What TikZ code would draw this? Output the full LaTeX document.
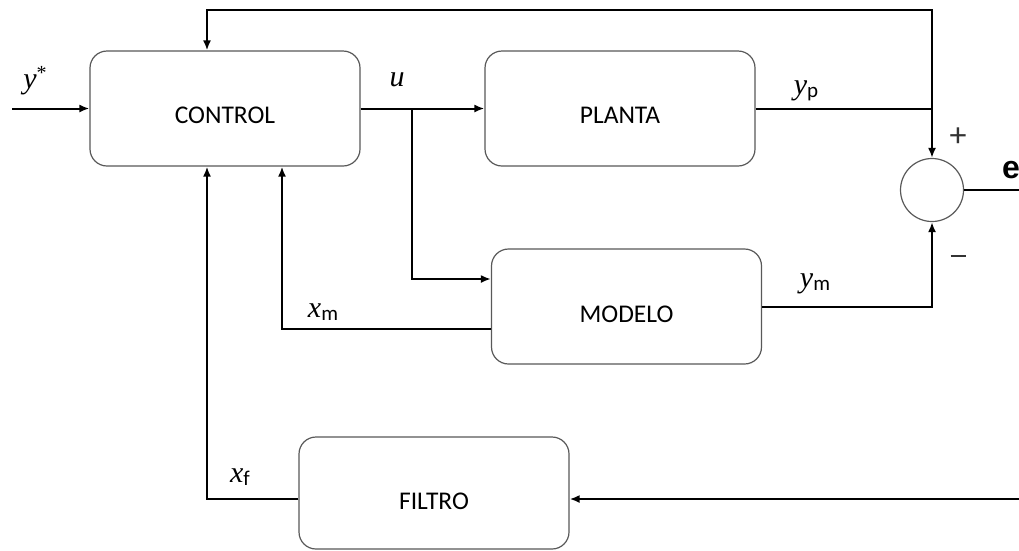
\documentclass[tikz,border=0pt]{standalone}
\usepackage{fontspec}
\setmainfont{Carlito}
\newfontfamily\lserif{Liberation Serif}
\newfontfamily\lsans{Liberation Sans}
\usetikzlibrary{arrows.meta}
\newcommand\itl[1]{{\lserif\itshape #1}}
\newcommand\vsub[2]{\itl{#1}\raisebox{-3pt}{\fontsize{21}{21}\selectfont #2}}
\begin{document}
\begin{tikzpicture}[x=1pt,y=-1pt,
  blk/.style={draw=black!65, line width=1.2pt, rounded corners=17pt, inner sep=0pt,
    minimum width=270pt, minimum height=115pt},
  btxt/.style={font=\fontsize{25.5}{30}\selectfont, inner sep=0pt, text=black},
  wire/.style={line width=2pt, black},
  arr/.style={wire, -{Latex[length=10pt,width=8pt]}},
  lab/.style={font=\fontsize{30}{34}\selectfont, inner sep=0pt},
  sgn/.style={font=\fontsize{34}{34}\selectfont, inner sep=0pt, text=black!80}]
\useasboundingbox (0,0) rectangle (1019,550);
\fill[white] (0,0) rectangle (1019,550);

% blocks
\node[blk, label={[btxt,yshift=-7pt]center:CONTROL}] (control) at (225,108.5) {};
\node[blk, label={[btxt,yshift=-7pt]center:PLANTA}] (planta) at (620,108.5) {};
\node[blk, label={[btxt,yshift=-8pt]center:MODELO}] (modelo) at (626.5,306.5) {};
\node[blk, minimum height=112pt, label={[btxt,yshift=-8pt]center:FILTRO}] (filtro) at (434,493) {};
\node[circle, draw=black!65, line width=1.2pt, minimum size=63pt, inner sep=0pt] (sum) at (932,190) {};

% coordinates
\coordinate (in) at (12,108.5);
\coordinate (ju) at (412,108.5);
\coordinate (mu) at (412,279);
\coordinate (jp) at (932,108.5);
\coordinate (tr) at (932,10);
\coordinate (tl) at (207,10);
\coordinate (mx) at (282,329);
\coordinate (ym) at (932,306.5);
\coordinate (fx) at (207,499);
\coordinate (fin) at (1019,499);
\coordinate (out) at (1019,190);

% connectors
\draw[arr] (in) -- (control.west);
\draw[arr] (control.east) -- (planta.west);
\draw[arr] (ju) -- (mu) -- (mu -| modelo.west);
\draw[wire] (planta.east) -- (jp);
\draw[arr] (jp) -- (sum.north);
\draw[arr] (jp) -- (tr) -- (tl) -- (tl |- control.north);
\draw[arr] (modelo.east |- ym) -- (ym) -- (sum.south);
\draw[arr] (mx -| modelo.west) -- (mx) -- (mx |- control.south);
\draw[arr] (fx -| filtro.west) -- (fx) -- (fx |- control.south);
\draw[arr] (fin) -- (fin -| filtro.east);
\draw[wire] (sum.east) -- (out);

% labels
\node[lab] (lys) at (35,81) {\itl{y}\raisebox{9pt}{\lserif\fontsize{20}{20}\selectfont *}};
\node[lab] (lu) at (397,80) {\itl{u}};
\node[lab] (lyp) at (806,91) {\vsub{y}{p}};
\node[lab] (lym) at (815,284) {\vsub{y}{m}};
\node[lab] (lxm) at (323,312) {\vsub{x}{m}};
\node[lab] (lxf) at (240,477) {\vsub{x}{f}};
\node[sgn] (lplus) at (958,137) {+};
\node[sgn] (lminus) at (958,256) {\rule{15pt}{1.6pt}};
\node[anchor=west, inner sep=0pt, font=\lsans\bfseries\fontsize{32}{32}\selectfont] (le) at (1002,170) {e};
\end{tikzpicture}
\end{document}
